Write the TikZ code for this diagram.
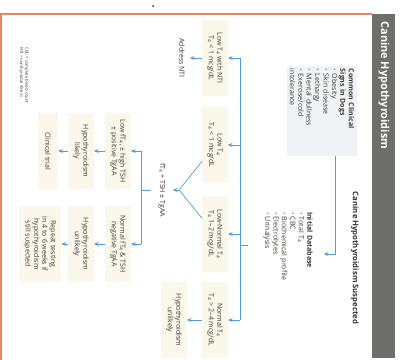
\documentclass[tikz,border=0pt]{standalone}
\usepackage{fontspec}
\setmainfont{Open Sans}
\usepackage{xcolor}
\usepackage{tikz}
\usetikzlibrary{positioning,arrows.meta}

\definecolor{flowblue}{RGB}{84,158,212}
\definecolor{bandgray}{RGB}{108,111,108}
\definecolor{frameorange}{RGB}{232,132,100}
\definecolor{boxbeige}{RGB}{251,247,234}
\definecolor{signsbg}{RGB}{240,242,246}
\definecolor{txtgray}{RGB}{62,58,54}

\newcommand{\tfour}{T\textsubscript{4}}
\newcommand{\bul}{{\color{flowblue}\textbullet}\ }

\begin{document}
\begin{tikzpicture}[x=0.5mm, y=-0.5mm,
  lbl/.style={rotate=-90, text=txtgray, font={\fontsize{10}{12}\selectfont}, align=center, inner xsep=1mm, inner ysep=2.5mm},
  outbox/.style={lbl, fill=boxbeige, minimum width=38mm, minimum height=10mm},
  flow/.style={draw=flowblue, line width=1pt},
  arr/.style={flow, -{Stealth[length=2.4mm,width=2mm]}}]
\useasboundingbox (0,0) rectangle (401,360);

% frame and title band
\fill[bandgray] (372,14) rectangle (395,358);
\draw[frameorange, line width=1.5pt] (0,14) -- (372,14);
\draw[frameorange, line width=1.5pt] (1,14) -- (1,360);
\fill[black!80] (153,6) circle (0.5mm);
\node[rotate=-90, anchor=west, text=white, font={\bfseries\fontsize{15.5}{18}\selectfont}] (title) at (384,19) {Canine Hypothyroidism};

% top part
\node[lbl, fill=signsbg, align=left, text width=42mm, inner sep=1.5mm] (sign_box) at (322,111) {\textbf{Common Clinical}\\\textbf{Signs in Dogs}\\\bul Obesity\\\bul Skin disease\\\bul Lethargy\\\bul Mental dullness\\\bul Exercise/cold\\intolerance};
\node[lbl, text=black!80, font={\bfseries\fontsize{11}{12}\selectfont}] (suspected) at (355,258) {Canine Hypothyroidism Suspected};
\node[lbl, align=left, text width=42mm, inner ysep=5.5mm] (init_db) at (288,254) {\textbf{Initial Database}\\\bul Total \tfour\\\bul CBC\\\bul Biochemical profile\\\bul Electrolytes\\\bul Urinalysis};

\coordinate (sig_x) at (335,0);
\draw[arr] (sign_box.east -| sig_x) |- (init_db.north);

% total T4 results
\node[outbox] (t4_nti) at (215,58) {Low \tfour{} with NTI\\\tfour{} < 1 mcg/dL};
\node[outbox] (t4_low) at (215,145) {Low \tfour\\\tfour{} < 1 mcg/dL};
\node[outbox] (t4_lown) at (215,234) {Low-Normal \tfour\\\tfour{} 1--2 mcg/dL};
\node[outbox] (t4_norm) at (215,320) {Normal \tfour\\\tfour{} > 2--4 mcg/dL};

\coordinate (bus) at (240,245);
\coordinate (db_stem) at (248,245);
\draw[flow] (db_stem) -- (bus);
\draw[flow] (t4_nti -| bus) -- (t4_norm -| bus);
\foreach \res in {t4_nti,t4_low,t4_lown,t4_norm}
  \draw[arr] (\res -| bus) -- (\res);

\node[lbl] (addr_nti) at (182,58) {Address NTI};
\node[outbox] (unlikely_a) at (174,320) {Hypothyroidism\\unlikely};
\draw[arr] (t4_nti) -- (addr_nti);
\draw[arr] (t4_norm) -- (unlikely_a);

% free T4 testing
\coordinate (apex) at (179,190);
\node[lbl, inner ysep=3.5mm] (ft4_test) at (162,190) {f\tfour{} + TSH ± TgAA};
\draw[flow] (t4_low) -- (apex) -- (t4_lown);
\draw[arr] (apex) -- (ft4_test);

\node[outbox] (ft4_low) at (118,151) {Low f\tfour, ± high TSH\\± positive TgAA};
\node[outbox] (ft4_norm) at (118,244) {Normal f\tfour{} \& TSH\\negative TgAA};

\coordinate (bus2) at (141,190);
\draw[flow] (ft4_test) -- (bus2);
\draw[flow] (ft4_low -| bus2) -- (ft4_norm -| bus2);
\draw[arr] (ft4_low -| bus2) -- (ft4_low);
\draw[arr] (ft4_norm -| bus2) -- (ft4_norm);

\node[outbox] (likely_b) at (81,151) {Hypothyroidism\\likely};
\node[outbox] (unlikely_b) at (81,244) {Hypothyroidism\\unlikely};
\node[outbox] (clin_trial) at (48,151) {Clinical trial};
\node[outbox] (repeat_test) at (40,244) {Repeat testing\\in 4 to 6 weeks if\\hypothyroidism\\still suspected};
\draw[arr] (ft4_low) -- (likely_b);
\draw[arr] (ft4_norm) -- (unlikely_b);
\draw[arr] (likely_b) -- (clin_trial);
\draw[arr] (unlikely_b) -- (repeat_test);

\node[rotate=-90, anchor=north west, align=left, text=txtgray, font={\fontsize{6}{7.5}\selectfont}] (notes) at (31,45) {CBC = complete blood count\\NTI = nonthyroidal illness};

\end{tikzpicture}
\end{document}
